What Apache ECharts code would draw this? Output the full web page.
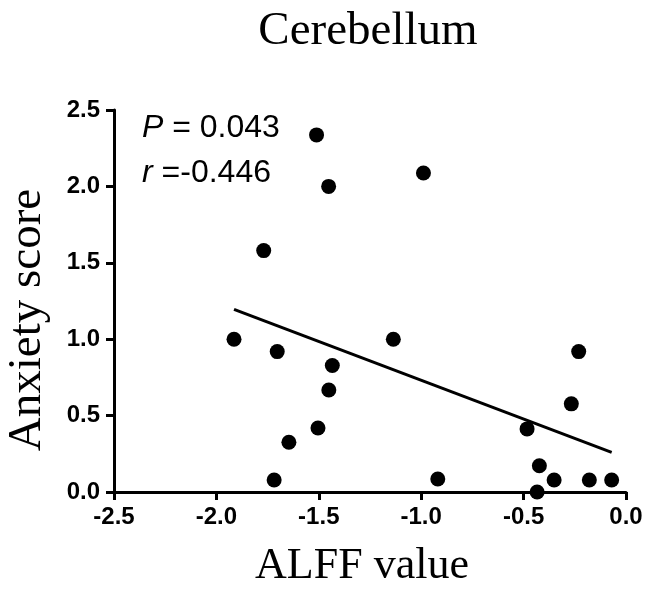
<!DOCTYPE html>
<html>
<head>
<meta charset="utf-8">
<script src="https://cdn.jsdelivr.net/npm/echarts@6/dist/echarts.min.js"></script>
<style>html,body{margin:0;padding:0;background:#fff}#c{width:646px;height:590px}</style>
</head>
<body>
<div id="c"></div>
<script>
// ALFF value (x) and anxiety score (y) per subject
const alffValues = [-1.511, -1.452, -1.769, -0.989, -1.914, -1.703, -1.434, -1.451, -1.504, -1.646, -1.718,
                    -1.136, -0.231, -0.267, -0.483, -0.423, -0.351, -0.179, -0.070, -0.434, -0.919];
const anxietyScores = [2.337, 2.000, 1.580, 2.088, 1.000, 0.919, 0.828, 0.668, 0.419, 0.326, 0.079,
                       1.000, 0.919, 0.577, 0.413, 0.172, 0.079, 0.079, 0.079, 0.000, 0.085];
const xTicks = [-2.5, -2.0, -1.5, -1.0, -0.5, 0.0];
const yTicks = [0.0, 0.5, 1.0, 1.5, 2.0, 2.5];
const statP = '0.043';
const statR = '-0.446';

// least-squares fit through the points
const n = alffValues.length;
const mx = alffValues.reduce((a, b) => a + b, 0) / n;
const my = anxietyScores.reduce((a, b) => a + b, 0) / n;
let sxy = 0, sxx = 0;
for (let i = 0; i < n; i++) { sxy += (alffValues[i] - mx) * (anxietyScores[i] - my); sxx += (alffValues[i] - mx) ** 2; }
const slope = sxy / sxx, icpt = my - slope * mx;
const x0 = Math.min(...alffValues), x1 = Math.max(...alffValues);
const fitLine = [[x0, icpt + slope * x0], [x1, icpt + slope * x1]];

const points = alffValues.map((x, i) => [x, anxietyScores[i]]);

const chart = echarts.init(document.getElementById('c'));
const axisCommon = {
  axisLine: { show: true, onZero: false, lineStyle: { color: '#000', width: 3 } },
  axisTick: { show: true, length: 8, lineStyle: { color: '#000', width: 3 } },
  splitLine: { show: false },
  axisLabel: { color: '#000', fontFamily: 'Liberation Sans', fontWeight: 'bold', fontSize: 24,
               formatter: v => Number(v).toFixed(1) },
  nameLocation: 'middle'
};
chart.setOption({
  animation: false,
  backgroundColor: '#fff',
  title: {
    text: 'Cerebellum', left: 363, top: 3, textAlign: 'center',
    textStyle: { color: '#000', fontFamily: 'Liberation Serif', fontWeight: 'normal', fontSize: 47 }
  },
  grid: { left: 114, right: 20, top: 110, bottom: 98, containLabel: false, outerBoundsMode: 'none' },
  xAxis: Object.assign({}, axisCommon, {
    type: 'value', min: xTicks[0], max: xTicks[xTicks.length - 1], interval: 0.5,
    name: 'ALFF value', nameGap: 52,
    nameTextStyle: { color: '#000', fontFamily: 'Liberation Serif', fontSize: 44, padding: [0, 16, 0, 0] },
    axisLabel: Object.assign({}, axisCommon.axisLabel, { margin: 13 })
  }),
  yAxis: Object.assign({}, axisCommon, {
    type: 'value', min: yTicks[0], max: yTicks[yTicks.length - 1], interval: 0.5,
    name: 'Anxiety score', nameGap: 63, nameRotate: 90,
    nameTextStyle: { color: '#000', fontFamily: 'Liberation Serif', fontSize: 47, padding: [0, 38, 0, 0] },
    axisLabel: Object.assign({}, axisCommon.axisLabel, { margin: 14 })
  }),
  graphic: [
    { type: 'text', left: 142, top: 112, style: {
        text: '{i|P} = ' + statP, font: '32px "Liberation Sans"', fill: '#000',
        rich: { i: { fontStyle: 'italic', fontFamily: 'Liberation Sans', fontSize: 32, fill: '#000' } } } },
    { type: 'text', left: 142, top: 157, style: {
        text: '{i|r} =' + statR, font: '32px "Liberation Sans"', fill: '#000',
        rich: { i: { fontStyle: 'italic', fontFamily: 'Liberation Sans', fontSize: 32, fill: '#000' } } } }
  ],
  series: [
    { type: 'scatter', data: points, symbol: 'circle', symbolSize: 15,
      itemStyle: { color: '#000', opacity: 1 }, z: 3 },
    { type: 'line', data: fitLine, symbol: 'none', lineStyle: { color: '#000', width: 3 }, z: 2 }
  ]
});
</script>
</body>
</html>
